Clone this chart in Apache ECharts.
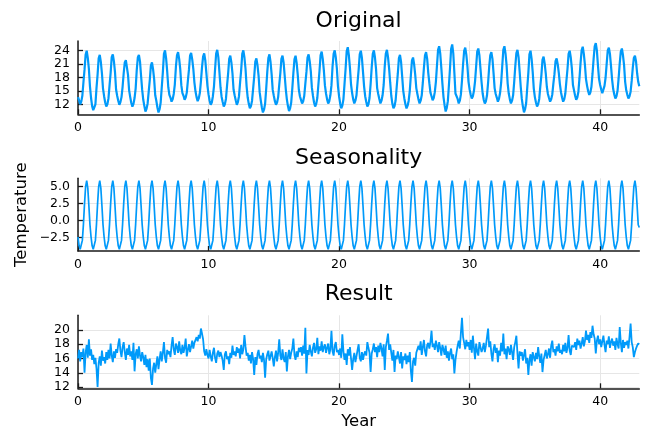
<!DOCTYPE html>
<html><head><meta charset="utf-8">
<script src="https://cdn.jsdelivr.net/npm/echarts@6/dist/echarts.min.js"></script>
<style>html,body{margin:0;padding:0;background:#fff}#c{width:656px;height:435px}</style>
</head><body><div id="c"></div>
<script>
// ---- data (monthly samples, x = years) ----
const stepsPerYear = 12;
const xTicks = [0, 10, 20, 30, 40];
const origTicks = [12, 15, 18, 21, 24];
const seasTicks = [-2.5, 0, 2.5, 5];
const resTicks = [12, 14, 16, 18, 20];
const titles = ['Original', 'Seasonality', 'Result'];
const yLabel = 'Temperature';
const xLabel = 'Year';

// one seasonal cycle as read (identical every year), plus last sample
const seasonalCycle = [-2.4, -3.7, -4.2, -4.1, -2.9, -0.5, 2.5, 5.0, 5.9, 4.8, 2.2, -0.6];
const seasonalEnd = -1.0;

const original = [
13.6,12.9,12.0,12.6,13.9,16.9,19.7,23.0,23.9,22.3,19.9,16.0,
13.4,11.6,10.7,11.3,12.0,15.6,18.6,22.2,23.0,21.4,18.9,15.5,
13.8,12.4,11.5,12.0,13.3,16.2,19.0,22.5,23.1,21.6,19.2,15.3,
13.9,12.8,11.9,12.5,13.6,15.9,18.9,21.3,21.8,21.4,18.5,15.1,
13.6,12.3,11.5,12.1,13.4,15.5,19.6,22.4,23.0,21.5,18.3,15.2,
13.0,11.6,10.4,11.0,12.2,14.8,17.4,20.6,21.3,19.8,17.6,14.0,
12.8,11.3,10.2,10.9,12.4,15.8,19.1,23.2,24.0,22.2,19.3,15.8,
14.1,13.5,12.6,13.1,14.3,16.4,20.3,22.9,23.6,22.1,19.8,16.2,
14.5,13.9,13.0,13.5,14.6,17.2,19.7,22.8,23.4,22.0,19.9,16.9,
14.9,13.6,12.7,13.3,14.5,17.1,20.2,22.6,23.3,21.8,19.0,16.1,
14.2,12.8,11.9,12.4,13.8,16.0,19.8,23.3,24.1,22.5,19.2,15.8,
13.7,12.5,11.5,12.0,13.2,16.1,18.8,22.1,22.8,21.3,18.9,15.3,
14.0,12.9,11.9,12.5,13.8,16.8,19.6,23.2,24.0,22.4,19.9,16.0,
13.5,12.1,11.1,11.6,12.8,15.5,18.2,21.5,22.2,20.7,18.4,14.7,
12.9,11.3,10.2,10.8,12.1,15.4,19.2,22.3,23.1,21.4,18.7,15.2,
13.9,12.7,11.9,12.4,13.6,16.3,18.9,22.1,22.8,21.3,18.4,15.4,
13.1,11.6,10.5,11.1,12.4,15.5,19.0,22.0,22.8,21.2,18.6,15.3,
13.8,13.0,12.2,12.7,13.9,16.6,19.2,22.4,23.1,21.6,19.4,15.7,
13.9,12.4,11.5,12.1,13.4,16.4,19.4,22.9,23.7,22.1,19.6,16.2,
14.4,13.1,12.2,12.7,14.0,16.2,20.4,23.2,24.0,22.4,19.9,16.0,
13.8,12.2,11.1,11.7,13.1,16.5,19.9,23.8,24.7,22.9,20.1,16.4,
14.5,13.1,12.2,12.8,14.0,16.9,19.7,23.1,23.9,22.3,19.2,16.0,
13.8,12.5,11.5,12.0,13.4,16.5,20.2,23.2,24.0,22.4,19.8,15.6,
14.3,13.2,12.2,12.8,14.0,16.3,20.5,23.3,24.1,22.5,20.0,16.8,
13.9,12.1,11.1,11.6,12.9,15.9,18.8,22.2,23.0,21.4,18.2,15.0,
13.3,12.0,11.1,11.7,12.8,15.0,18.4,21.7,22.4,20.9,18.6,15.6,
14.3,13.1,12.2,12.8,14.0,16.8,20.1,22.9,23.6,22.1,19.0,16.7,
14.6,13.8,12.9,13.4,14.7,17.0,20.6,24.1,24.9,23.3,20.1,16.6,
13.6,11.8,10.4,11.2,12.7,16.3,20.1,24.3,25.3,23.3,19.0,14.4,
14.0,13.2,12.2,12.8,14.2,17.3,20.9,23.9,24.6,23.0,20.4,17.0,
15.3,14.2,13.3,13.8,15.0,17.1,20.4,23.7,24.4,22.9,19.9,16.9,
14.4,13.0,12.2,12.7,14.0,16.8,20.3,22.9,23.6,22.1,19.0,15.6,
14.3,13.5,12.6,13.2,14.5,16.8,20.5,24.1,24.9,23.3,20.7,16.6,
14.4,13.1,12.2,12.8,14.0,17.0,20.5,23.4,24.1,22.5,19.3,15.9,
13.2,11.5,10.2,10.9,12.3,15.7,19.0,23.1,23.9,22.1,19.2,15.5,
13.6,12.4,11.5,12.0,13.2,16.0,18.5,21.9,22.6,21.1,18.9,15.9,
14.3,13.4,12.6,13.1,14.2,16.6,18.7,21.6,22.2,20.9,19.0,16.5,
14.7,13.5,12.6,13.1,14.4,17.2,19.9,23.2,23.9,22.4,20.0,16.3,
15.1,13.9,13.0,13.5,14.8,17.8,21.2,24.0,24.8,23.2,20.8,17.6,
16.1,14.9,14.1,14.6,15.9,18.8,22.1,24.9,25.6,24.0,20.6,17.6,
16.3,15.3,14.5,14.9,16.1,17.9,21.0,24.0,24.6,23.2,20.5,17.5,
15.4,14.2,13.3,13.8,15.0,17.8,21.1,23.7,24.4,22.9,20.7,17.0,
15.1,14.1,13.3,13.8,14.8,17.2,20.1,22.3,22.8,21.5,18.9,17.0,
16.0];

const result = [
16.0,17.2,15.6,16.9,16.2,17.4,14.0,16.8,17.9,16.1,18.7,16.4,
17.3,15.8,16.5,15.2,16.1,14.6,12.0,15.4,16.3,15.0,17.1,15.7,
16.2,15.3,16.9,15.8,17.2,16.0,18.1,16.4,15.5,17.0,16.1,17.3,
16.8,18.0,18.8,17.1,16.2,17.6,18.3,16.9,15.8,17.4,16.5,17.9,
16.3,17.0,15.8,18.2,14.2,16.6,17.3,16.0,17.7,16.4,15.6,16.9,
16.2,15.1,16.5,14.8,15.9,14.3,16.0,13.3,12.3,14.6,15.4,14.0,
15.2,16.3,14.5,15.9,17.0,15.6,16.8,18.3,16.1,15.4,17.2,16.6,
17.0,16.2,17.8,19.0,17.3,16.5,18.1,17.6,16.8,18.4,17.1,16.6,
17.9,16.8,17.5,18.8,16.3,17.2,18.0,16.9,17.7,18.5,17.4,18.2,
18.1,19.0,18.4,19.3,18.8,20.2,19.5,18.7,17.0,16.4,17.3,16.5,
16.0,17.2,16.3,15.6,16.8,17.5,16.1,15.4,16.7,17.1,16.2,16.9,
16.4,15.7,14.4,16.6,17.0,15.9,16.3,15.2,16.8,16.1,17.8,16.5,
17.0,16.3,17.6,16.8,17.4,16.0,17.9,16.6,17.3,19.3,17.7,16.4,
16.8,15.7,16.5,15.3,16.9,15.9,13.7,16.2,15.1,16.6,17.2,16.0,
16.4,15.5,16.8,15.8,13.3,15.9,16.6,17.1,15.7,16.3,17.0,16.1,
14.9,16.2,17.1,15.6,16.8,18.7,16.4,15.8,17.3,16.0,15.5,16.9,
14.2,16.3,17.2,15.9,16.8,17.4,18.8,16.5,15.8,17.0,16.2,17.5,
16.9,17.6,16.4,17.8,16.7,20.3,13.9,17.2,16.5,17.9,17.0,16.3,
17.5,18.2,16.8,17.3,18.9,16.6,17.7,17.1,18.4,16.9,17.6,18.0,
16.8,17.5,18.1,16.6,17.3,19.9,17.0,16.4,17.8,18.3,16.9,17.2,
16.5,17.4,16.1,19.4,17.0,15.8,16.7,15.1,17.3,16.4,17.6,16.0,
14.4,15.9,16.8,15.5,16.3,17.2,18.0,16.1,15.6,16.9,15.8,16.6,
17.0,16.4,18.3,17.5,16.8,14.1,16.7,17.3,18.1,16.9,17.6,16.2,
17.8,16.9,18.2,17.4,16.3,18.0,14.4,17.6,18.5,19.5,17.2,18.0,
16.8,15.7,17.2,14.1,16.4,15.9,17.0,16.2,15.3,16.9,14.6,16.3,
15.8,16.7,15.2,16.4,15.5,16.9,14.3,12.7,15.6,16.1,15.0,16.8,
16.9,17.8,17.2,18.4,16.5,17.6,18.6,17.0,16.3,17.9,18.2,17.4,
18.3,19.9,17.6,18.1,17.2,18.5,17.8,16.9,18.3,17.5,16.4,17.9,
17.3,16.5,17.8,16.1,17.0,15.7,16.8,17.4,15.9,16.6,13.9,15.8,
16.9,17.8,18.5,17.4,19.6,21.7,19.0,18.2,17.3,18.6,17.7,18.3,
17.2,18.6,16.8,19.2,17.5,15.9,18.1,17.0,16.4,18.3,17.6,16.9,
17.4,18.2,16.9,17.8,19.0,20.2,17.6,18.4,16.7,15.6,17.3,18.0,
16.8,17.5,15.5,17.1,16.4,18.2,17.0,19.5,16.6,17.4,15.9,17.7,
17.3,16.5,17.9,16.9,15.8,17.6,18.3,19.2,16.7,14.6,17.0,16.4,
16.9,15.7,16.5,17.3,15.3,16.1,13.7,15.8,16.6,15.0,16.9,16.2,
15.6,16.8,15.9,17.6,16.3,15.4,16.7,14.1,15.8,16.5,17.2,16.0,
16.6,17.4,16.1,17.8,18.5,16.9,17.3,16.4,17.7,17.0,18.1,16.8,
17.2,16.6,17.9,17.0,18.2,16.8,17.5,19.3,17.1,16.5,17.8,18.0,
17.6,18.3,17.2,18.8,17.9,18.5,17.4,18.1,19.0,17.7,18.4,19.9,
18.6,19.3,18.2,19.7,18.9,20.6,19.4,18.8,16.7,18.5,19.2,18.0,
18.7,17.6,18.4,19.2,17.9,16.9,18.5,18.0,19.1,17.5,18.3,18.8,
17.8,18.4,17.2,18.9,18.0,17.4,20.4,18.2,16.9,18.6,17.5,18.3,
17.9,18.5,17.4,19.0,20.9,18.3,17.6,16.2,16.9,17.4,17.8,18.1,
18.0];

// ---- build ----
const nYears = (original.length - 1) / stepsPerYear;
const seasonal = [];
for (let y = 0; y < nYears; y++) seasonal.push(...seasonalCycle);
seasonal.push(seasonalEnd);
const toPairs = arr => arr.map((v, i) => [i / stepsPerYear, v]);

const font = '"DejaVu Sans", sans-serif';
const axisColor = '#1a1a1a';
const gridColor = '#e6e6e6';
const lineColor = '#009AFA';
const gl = 78, gw = 561.3;
const grids = [
  {left: gl, top: 41, width: gw, height: 73.3},
  {left: gl, top: 178.3, width: gw, height: 72.7},
  {left: gl, top: 315.3, width: gw, height: 73}
];
const yRanges = [[9.78, 26.07], [-4.46, 6.23], [11.82, 22.06]];
const yTicks = [origTicks, seasTicks, resTicks];
const fmts = [
  v => String(v),
  v => (v < 0 ? '\u2212' : '') + Math.abs(v).toFixed(1),
  v => String(v)
];
const seriesData = [original, seasonal, result];
const widths = [2.2, 1.7, 1.8];

const xAxes = [], yAxes = [], series = [];
for (let i = 0; i < 3; i++) {
  xAxes.push({
    type: 'value', gridIndex: i, min: 0, max: nYears,
    axisLine: {show: true, onZero: false, lineStyle: {color: axisColor, width: 1.5}},
    axisTick: {show: true, inside: true, length: 5, customValues: xTicks, lineStyle: {color: axisColor, width: 1.3}},
    axisLabel: {show: true, customValues: xTicks, fontSize: 12.5, fontFamily: font, color: '#000', margin: 7},
    splitLine: {show: true, lineStyle: {color: gridColor, width: 1}}
  });
  yAxes.push({
    type: 'value', gridIndex: i, min: yRanges[i][0], max: yRanges[i][1],
    axisLine: {show: true, onZero: false, lineStyle: {color: axisColor, width: 1.5}},
    axisTick: {show: true, inside: true, length: 5, customValues: yTicks[i], lineStyle: {color: axisColor, width: 1.3}},
    axisLabel: {show: true, customValues: yTicks[i], formatter: fmts[i], fontSize: 12.5, fontFamily: font, color: '#000', margin: 8},
    splitLine: {show: true, lineStyle: {color: gridColor, width: 1}}
  });
  series.push({
    type: 'line', xAxisIndex: i, yAxisIndex: i, data: toPairs(seriesData[i]),
    showSymbol: false, symbol: 'none', silent: true, animation: false,
    lineStyle: {color: lineColor, width: widths[i]}
  });
}

const titleY = [21, 158, 294.5];
const graphic = titles.map((t, i) => ({
  type: 'text', x: gl + gw / 2, y: titleY[i], silent: true,
  style: {text: t, font: '22px ' + font, fill: '#000', textAlign: 'center', textVerticalAlign: 'middle', align: 'center', verticalAlign: 'middle'}
}));
graphic.push({
  type: 'text', x: 21.7, y: 214.7, rotation: Math.PI / 2, silent: true,
  style: {text: yLabel, font: '16.5px ' + font, fill: '#000', textAlign: 'center', textVerticalAlign: 'middle', align: 'center', verticalAlign: 'middle'}
});
graphic.push({
  type: 'text', x: gl + gw / 2, y: 422, silent: true,
  style: {text: xLabel, font: '16.5px ' + font, fill: '#000', textAlign: 'center', textVerticalAlign: 'middle', align: 'center', verticalAlign: 'middle'}
});

const chart = echarts.init(document.getElementById('c'), null, {renderer: 'canvas'});
chart.setOption({
  backgroundColor: '#fff',
  animation: false,
  grid: grids.map(g => Object.assign({containLabel: false, outerBoundsMode: 'none'}, g)),
  xAxis: xAxes,
  yAxis: yAxes,
  series: series,
  graphic: graphic
});
</script>
</body></html>
